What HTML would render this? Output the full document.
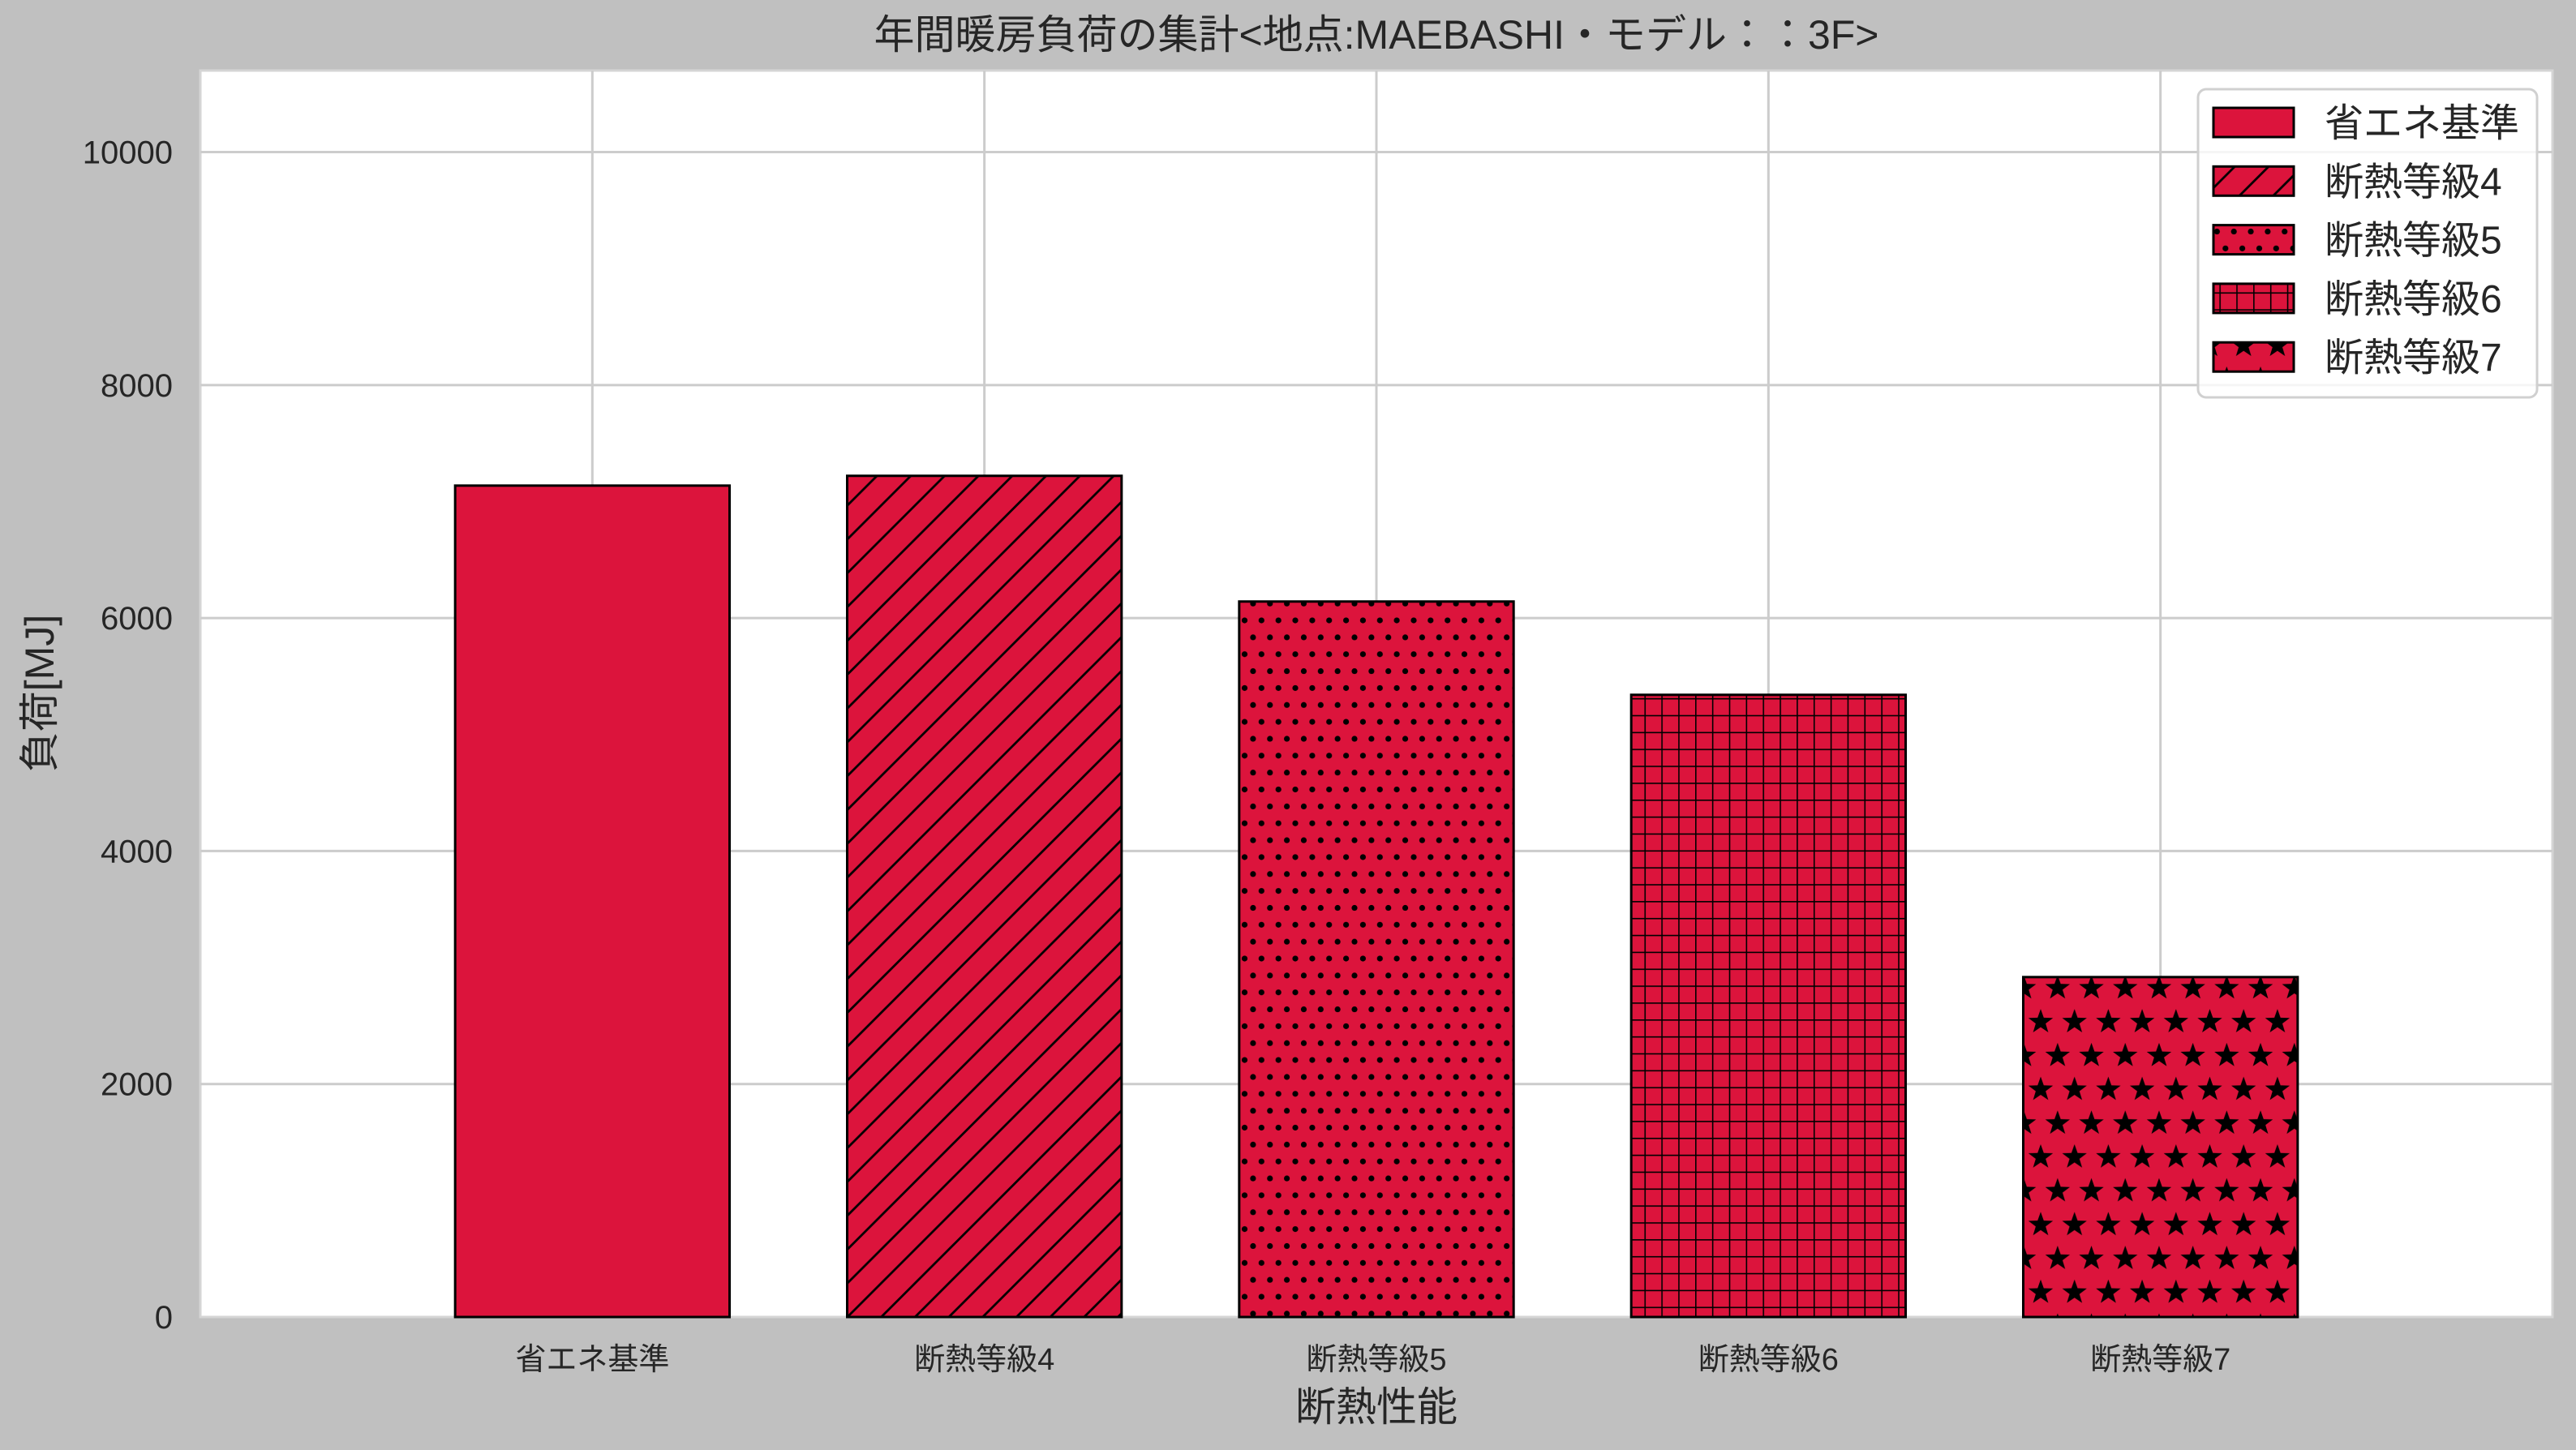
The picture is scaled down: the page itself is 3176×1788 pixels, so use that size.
<!DOCTYPE html>
<html><head><meta charset="utf-8">
<style>
html,body{margin:0;padding:0;background:#c0c0c0;}
svg{display:block;}
text{font-family:"Liberation Sans","Noto Sans CJK JP",sans-serif;fill:#262626;}
</style></head>
<body>
<svg id="chart" width="3176" height="1788" viewBox="0 0 3176 1788" xmlns="http://www.w3.org/2000/svg">
<defs>
  <pattern id="p-diag" patternUnits="userSpaceOnUse" width="41.7" height="41.7">
    <rect width="41.7" height="41.7" fill="#dc143c"/>
    <path d="M-5,46.7 L46.7,-5 M-5,5 L5,-5 M36.7,46.7 L46.7,36.7" stroke="#000" stroke-width="2.8"/>
  </pattern>
  <pattern id="p-dots" patternUnits="userSpaceOnUse" width="41.7" height="41.7" x="2" y="4">
    <rect width="41.7" height="41.7" fill="#dc143c"/>
    <circle cx="10.4" cy="10.4" r="3.6" fill="#000"/>
    <circle cx="31.3" cy="10.4" r="3.6" fill="#000"/>
    <circle cx="0" cy="31.3" r="3.6" fill="#000"/>
    <circle cx="20.85" cy="31.3" r="3.6" fill="#000"/>
    <circle cx="41.7" cy="31.3" r="3.6" fill="#000"/>
  </pattern>
  <pattern id="p-grid" patternUnits="userSpaceOnUse" width="20.85" height="20.85" x="5" y="6">
    <rect width="20.85" height="20.85" fill="#dc143c"/>
    <path d="M0,0 H20.85 M0,0 V20.85" stroke="#000" stroke-width="3.2"/>
  </pattern>
  <pattern id="p-star" patternUnits="userSpaceOnUse" width="41.7" height="83.4" x="14" y="30">
    <rect width="41.7" height="83.4" fill="#dc143c"/>
    <polygon fill="#000" points="0,-16 3.8,-5.2 15.2,-4.9 6.1,2 9.4,12.9 0,6.5 -9.4,12.9 -6.1,2 -15.2,-4.9 -3.8,-5.2" transform="translate(20.85,20.85)"/>
    <polygon fill="#000" points="0,-16 3.8,-5.2 15.2,-4.9 6.1,2 9.4,12.9 0,6.5 -9.4,12.9 -6.1,2 -15.2,-4.9 -3.8,-5.2" transform="translate(0,62.55)"/>
    <polygon fill="#000" points="0,-16 3.8,-5.2 15.2,-4.9 6.1,2 9.4,12.9 0,6.5 -9.4,12.9 -6.1,2 -15.2,-4.9 -3.8,-5.2" transform="translate(41.7,62.55)"/>
  </pattern>
</defs>
<rect x="0" y="0" width="3176" height="1788" fill="#c0c0c0"/>
<rect x="247" y="87" width="2900" height="1537" fill="#ffffff" stroke="#d5d5d5" stroke-width="3"/>
<g id="grid"></g>
<g id="bars"></g>
<g id="yticks"></g>
<g id="xticks"></g>
<text x="1697" y="60" font-size="50" text-anchor="middle">年間暖房負荷の集計&lt;地点:MAEBASHI・モデル：：3F&gt;</text>
<text x="1697" y="1752" font-size="50" text-anchor="middle">断熱性能</text>
<text x="0" y="0" font-size="50" text-anchor="middle" transform="translate(66,855) rotate(-90)">負荷[MJ]</text>
<g id="legend">
  <rect x="2710" y="110" width="418" height="380" rx="10" fill="#ffffff" fill-opacity="0.8" stroke="#d0d0d0" stroke-width="3"/>
</g>
</svg>
<script>
const categories = ["省エネ基準","断熱等級4","断熱等級5","断熱等級6","断熱等級7"];
const values = [7137, 7221, 6142, 5341, 2918];
const patterns = ["#dc143c","url(#p-diag)","url(#p-dots)","url(#p-grid)","url(#p-star)"];
const yTicks = [0, 2000, 4000, 6000, 8000, 10000];
const yMax = 10700;

const NS = "http://www.w3.org/2000/svg";
const axL = 247, axR = 3147, axT = 87, axB = 1624;
const xScale = i => axL + (i + 1) / 6 * (axR - axL);
const yScale = v => axB - v / yMax * (axB - axT);
const barW = 0.7 * (axR - axL) / 6;
function mk(tag, attrs, parent){const e=document.createElementNS(NS,tag);for(const k in attrs)e.setAttribute(k,attrs[k]);parent.appendChild(e);return e;}
const grid = document.getElementById('grid');
const bars = document.getElementById('bars');
const yt = document.getElementById('yticks');
const xt = document.getElementById('xticks');
yTicks.forEach(t => {
  const y = yScale(t);
  if (t > 0) {
    const l = mk('line',{x1:axL,x2:axR,y1:y,y2:y,stroke:'#cccccc','stroke-width':3},grid);
    
    
  }
  const tx = mk('text',{x:213,y:y+14,'font-size':40,'text-anchor':'end'},yt);
  tx.textContent = t;
  
  
});
categories.forEach((c,i) => {
  const x = xScale(i);
  const l = mk('line',{x1:x,x2:x,y1:axT,y2:axB,stroke:'#cccccc','stroke-width':3},grid);
  
  
  const y = yScale(values[i]);
  const r = mk('rect',{x:x-barW/2,y:y,width:barW,height:axB-y,fill:patterns[i],stroke:'#000','stroke-width':3},bars);
  
  
  const tx = mk('text',{x:x,y:1689,'font-size':38,'text-anchor':'middle'},xt);
  tx.textContent = c;
  
  
});
const lg = document.getElementById('legend');
categories.forEach((c,i) => {
  const cy = 151 + i * 72.3;
  const p = mk('rect',{x:2729,y:cy-18,width:99,height:36,fill:patterns[i],stroke:'#000','stroke-width':3},lg);
  
  
  const t = mk('text',{x:2866,y:cy+17,'font-size':48},lg);
  t.textContent = c;
  
  
});
</script>
</body></html>
